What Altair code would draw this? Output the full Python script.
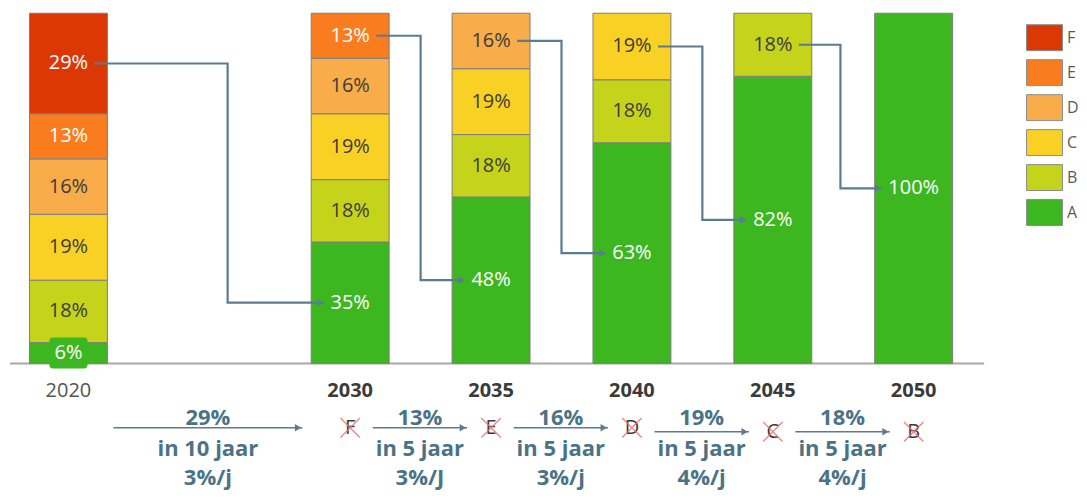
import altair as alt
import pandas as pd

# ---------------- data ----------------
years = ["2020", "2030", "2035", "2040", "2045", "2050"]
slot = [0, 2, 3, 4, 5, 6]            # category slot (one empty slot after 2020)
classes = ["A", "B", "C", "D", "E", "F"]
share_A = [6, 35, 48, 63, 82, 100]
share_B = [18, 18, 18, 18, 18, 0]
share_C = [19, 19, 19, 19, 0, 0]
share_D = [16, 16, 16, 0, 0, 0]
share_E = [13, 13, 0, 0, 0, 0]
share_F = [29, 0, 0, 0, 0, 0]

step_pct = ["29%", "13%", "16%", "19%", "18%"]
step_period = ["in 10 jaar", "in 5 jaar", "in 5 jaar", "in 5 jaar", "in 5 jaar"]
step_rate = ["3%/j", "3%/J", "3%/j", "4%/j", "4%/j"]
crossed = ["F", "E", "D", "C", "B"]

legend_order = ["F", "E", "D", "C", "B", "A"]
colors = ["#dc3806", "#f97d1e", "#f8ad4a", "#f9d124", "#c5d31b", "#3db71f"]

# ---------------- layout constants ----------------
FONT = "Open Sans"
TXT_BLUE = "#4b7387"
LINE_BLUE = "#5a7c91"
X_DOMAIN = [-0.429, 6.521]
Y_DOMAIN = [-36.38, 100]
YEAR_Y = -7.9
ARROW_Y = [-18.4, -18.4, -18.4, -19.54, -19.54]
LINE_Y = [-17.55, -26.39, -34.66]
BEND_X = [1.13, 2.5, 3.5, 4.5, 5.48]

shares = {"A": share_A, "B": share_B, "C": share_C, "D": share_D, "E": share_E, "F": share_F}

# stacked segments, normalised to 100
seg_rows = []
tops = []
a_mid = []
for i, yr in enumerate(years):
    total = sum(shares[c][i] for c in classes)
    cum = 0
    top = None
    for c in classes:
        v = shares[c][i]
        if v == 0:
            continue
        y0 = cum / total * 100
        cum += v
        y1 = cum / total * 100
        seg_rows.append(dict(year=yr, pos=slot[i], cls=c, y0=y0, y1=y1,
                             mid=(y0 + y1) / 2, label=f"{v}%", small=v < 10))
        top = (y0 + y1) / 2
        if c == "A":
            a_mid.append((y0 + y1) / 2)
    tops.append(top)
seg = pd.DataFrame(seg_rows)

# connectors from top segment of one bar to the A segment of the next
con_rows, tip_rows = [], []
for k in range(len(years) - 1):
    src, dst = slot[k], slot[k + 1]
    ys_, yt = tops[k], a_mid[k + 1]
    lab = f"{share_A[k + 1]}%"
    end = dst - 0.19 - 0.04 * (len(lab) - 3)
    pts = [(src + 0.185, ys_), (BEND_X[k], ys_), (BEND_X[k], yt), (end, yt)]
    for o, (x, y) in enumerate(pts):
        con_rows.append(dict(id=k, o=o, x=x, y=y))
    tip_rows.append(dict(x=end - 0.02, y=yt))
con = pd.DataFrame(con_rows)
tips = pd.DataFrame(tip_rows)

# bottom annotations
ann_rows, txt_rows, cross_rows = [], [], []
for k in range(len(step_pct)):
    a, b = slot[k], slot[k + 1]
    gap = b - a
    x0, x1 = a + 0.16 * gap, b - 0.17 * gap
    ann_rows.append(dict(x0=x0, x1=x1, y=ARROW_Y[k], tipx=x1 - 0.03))
    cx = (x0 + x1) / 2
    for r, t in enumerate([step_pct[k], step_period[k], step_rate[k]]):
        txt_rows.append(dict(x=cx, y=LINE_Y[r], t=t))
    cross_rows.append(dict(x=b, y=ARROW_Y[k], t=crossed[k]))
ann = pd.DataFrame(ann_rows)
txt = pd.DataFrame(txt_rows)
crs = pd.DataFrame(cross_rows)

years_df = pd.DataFrame(dict(year=years, pos=slot, ly=[YEAR_Y] * len(years),
                             first=[i == 0 for i in range(len(years))]))
axis_df = pd.DataFrame(dict(x0=[X_DOMAIN[0] + 0.014], x1=[6.5], y=[0]))

xs = alt.Scale(domain=X_DOMAIN, nice=False, zero=False, padding=0)
ys = alt.Scale(domain=Y_DOMAIN, nice=False, zero=False, padding=0)

axis_line = alt.Chart(axis_df).mark_rule(color="#a8a8a8", strokeWidth=2).encode(
    x=alt.X("x0:Q", scale=xs, axis=None), x2="x1:Q",
    y=alt.Y("y:Q", scale=ys, axis=None))

bars = alt.Chart(seg).mark_bar(size=78, stroke="#7d7d7d", strokeWidth=1).encode(
    x=alt.X("pos:Q", scale=xs, axis=None),
    y=alt.Y("y0:Q", scale=ys, axis=None), y2="y1:Q",
    fill=alt.Fill("cls:N", scale=alt.Scale(domain=legend_order, range=colors),
                  legend=alt.Legend(title=None, orient="none", legendX=1019, legendY=6,
                                    symbolType="M-1,-0.72H1V0.72H-1Z", symbolSize=1296,
                                    symbolStrokeColor="#8c8c8c", symbolStrokeWidth=1,
                                    symbolOpacity=1, rowPadding=1, padding=0,
                                    labelFont=FONT, labelFontSize=16, labelColor="#5a5a5a",
                                    labelOffset=4)))

small_box = alt.Chart(seg).transform_filter("datum.small").transform_calculate(
    bx0="datum.pos - 0.135", bx1="datum.pos + 0.135",
    by0="datum.mid - 4.4", by1="datum.mid + 4.4").mark_rect(
    color=colors[-1], cornerRadius=3).encode(
    x=alt.X("bx0:Q", scale=xs), x2="bx1:Q", y=alt.Y("by0:Q", scale=ys), y2="by1:Q")

seg_text = alt.Chart(seg).mark_text(font=FONT, fontSize=20, baseline="middle").encode(
    x=alt.X("pos:Q", scale=xs), y=alt.Y("mid:Q", scale=ys), text="label:N",
    color=alt.condition(alt.FieldOneOfPredicate(field="cls", oneOf=["A", "E", "F"]),
                        alt.value("white"), alt.value("#3c3c3c")))

con_lines = alt.Chart(con).mark_line(color=LINE_BLUE, strokeWidth=2.2).encode(
    x=alt.X("x:Q", scale=xs), y=alt.Y("y:Q", scale=ys), detail="id:N", order="o:Q")
con_tips = alt.Chart(tips).mark_point(shape="triangle-right", filled=True, size=55,
                                      color=LINE_BLUE, opacity=1).encode(
    x=alt.X("x:Q", scale=xs), y=alt.Y("y:Q", scale=ys))

year_first = alt.Chart(years_df).transform_filter("datum.first").mark_text(
    font=FONT, fontSize=20, baseline="middle", fontWeight="normal", color="#555555").encode(
    x=alt.X("pos:Q", scale=xs), y=alt.Y("ly:Q", scale=ys), text="year:N")
year_rest = alt.Chart(years_df).transform_filter("!datum.first").mark_text(
    font=FONT, fontSize=20, baseline="middle", fontWeight="bold", color="#3a3a3a").encode(
    x=alt.X("pos:Q", scale=xs), y=alt.Y("ly:Q", scale=ys), text="year:N")

ann_lines = alt.Chart(ann).mark_rule(color=LINE_BLUE, strokeWidth=1.5).encode(
    x=alt.X("x0:Q", scale=xs), x2="x1:Q", y=alt.Y("y:Q", scale=ys))
ann_tips = alt.Chart(ann).mark_point(shape="triangle-right", filled=True, size=55,
                                     color=LINE_BLUE, opacity=1).encode(
    x=alt.X("tipx:Q", scale=xs), y=alt.Y("y:Q", scale=ys))
ann_text = alt.Chart(txt).mark_text(font=FONT, fontSize=22, fontWeight="bold",
                                    color=TXT_BLUE, baseline="alphabetic").encode(
    x=alt.X("x:Q", scale=xs), y=alt.Y("y:Q", scale=ys), text="t:N")
cross_text = alt.Chart(crs).mark_text(font=FONT, fontSize=20, color="#3a3a3a",
                                      baseline="middle").encode(
    x=alt.X("x:Q", scale=xs), y=alt.Y("y:Q", scale=ys), text="t:N")
cross_x = alt.Chart(crs).mark_point(shape="M-1,-1L1,1M1,-1L-1,1", size=380,
                                    color="#f07070", strokeWidth=1.3, opacity=0.85,
                                    filled=False).encode(
    x=alt.X("x:Q", scale=xs), y=alt.Y("y:Q", scale=ys))

chart = alt.layer(
    axis_line, bars, small_box, seg_text, con_lines, con_tips, year_first, year_rest,
    ann_lines, ann_tips, ann_text, cross_text, cross_x
).properties(
    width=980, height=478,
    padding={"left": 0, "top": 4, "right": 0, "bottom": 0}
).configure_view(stroke=None)

chart.save("out.html", embed_options={"renderer": "svg", "actions": False})
